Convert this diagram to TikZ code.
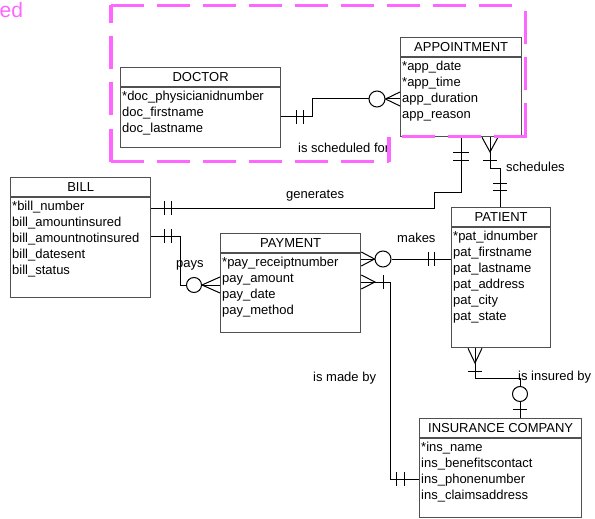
\documentclass[tikz,border=0pt]{standalone}
\usepackage{fontspec}
\setmainfont{Liberation Sans}
\definecolor{magc}{RGB}{255,102,255}
\definecolor{boxc}{RGB}{80,80,80}
\newcommand\erfont{\fontsize{13}{16}\selectfont}
\newcommand\ERent[7]{%
  \node[ent, minimum width=#4pt, minimum height=#5pt] (#1) at (#2,#3) {};
  \draw[entline] ([yshift=-20pt]#1.north west) -- ([yshift=-20pt]#1.north east);
  \node[hdr] (#1-t) at ([yshift=-10pt]#1.north) {#6};
  \foreach \a [count=\i from 0] in {#7}
    \node[attr] (#1-a\i) at ([xshift=2pt,yshift={-33.5pt-16pt*\i}]#1.north west) {\a};
}
\tikzset{
  ent/.style={draw=boxc, line width=1.3pt, inner sep=0pt, anchor=north west},
  entline/.style={draw=boxc, line width=1.3pt},
  hdr/.style={font=\erfont, inner sep=0pt},
  attr/.style={font=\erfont, inner sep=0pt, anchor=base west},
  lbl/.style={font=\erfont, inner sep=0pt, anchor=base west},
  conn/.style={draw=black, line width=1pt},
  opt/.style={circle, draw=black, line width=1pt, minimum size=16pt, inner sep=0pt},
  mag/.style={draw=magc, line width=3.5pt, dash pattern=on 33pt off 13pt},
}
\begin{document}
\begin{tikzpicture}[x=1pt,y=-1pt]
\useasboundingbox (0,0) rectangle (595,519);

% entities
\ERent{doctor}{120}{67}{160}{80}{DOCTOR}{*doc\_physicianidnumber,doc\_firstname,doc\_lastname}
\ERent{appointment}{400}{37}{121}{99}{APPOINTMENT}{*app\_date,*app\_time,app\_duration,app\_reason}
\ERent{bill}{10}{177}{140}{120}{BILL}{*bill\_number,bill\_amountinsured,bill\_amountnotinsured,bill\_datesent,bill\_status}
\ERent{payment}{220}{233}{140}{99}{PAYMENT}{*pay\_receiptnumber,pay\_amount,pay\_date,pay\_method}
\ERent{patient}{451}{207}{99}{140}{PATIENT}{*pat\_idnumber,pat\_firstname,pat\_lastname,pat\_address,pat\_city,pat\_state}
\ERent{insurance}{419}{418}{162}{99}{INSURANCE COMPANY}{*ins\_name,ins\_benefitscontact,ins\_phonenumber,ins\_claimsaddress}

% 1 doctor - appointment
\node[opt] (o1) at (377,99) {};
\draw[conn] (doctor.east |- 0,117) -| (312,99) -- (o1.west);
\draw[conn] (o1.east) -- (appointment.west |- 0,99);
\draw[conn] (appointment.west |- 0,92) -- (o1.east) -- (appointment.west |- 0,106);
\draw[conn] (296,110) -- (296,124) (303,110) -- (303,124);
\node[lbl] (l1) at (298,152) {is scheduled for};

% 2 generates
\draw[conn] (appointment.south -| 461,0) -- (461,192) -| (434,208) -- (bill.east |- 0,208);
\draw[conn] (453,152) -- (469,152) (453,160) -- (469,160);
\draw[conn] (164,201) -- (164,215) (171,201) -- (171,215);
\node[lbl] (l2) at (286,198) {generates};

% 3 schedules
\draw[conn] (appointment.south -| 482,0) -- (490,152) -- (appointment.south -| 498,0);
\draw[conn] (appointment.south -| 490,0) -- (490,168) -| (patient.north -| 500,0);
\draw[conn] (483,160) -- (497,160);
\draw[conn] (493,183) -- (507,183) (493,190) -- (507,190);
\node[lbl] (l3) at (506,171.5) {schedules};

% 4 pays
\node[opt, minimum size=15pt] (o2) at (194,285) {};
\draw[conn] (bill.east |- 0,236) -| (180,285) -- (o2.west);
\draw[conn] (o2.east) -- (payment.west |- 0,285);
\draw[conn] (payment.west |- 0,277) -- (o2.east) -- (payment.west |- 0,293);
\draw[conn] (164,229) -- (164,243) (171,229) -- (171,243);
\node[lbl] (l4) at (176,267) {pays};

% 5 makes
\node[opt] (o3) at (383,259) {};
\draw[conn] (payment.east |- 0,252) -- (o3.west) -- (payment.east |- 0,266);
\draw[conn] (payment.east |- 0,259) -- (o3.west);
\draw[conn] (o3.east) -- (patient.west |- 0,259);
\draw[conn] (428,252) -- (428,266) (434,252) -- (434,266);
\node[lbl] (l5) at (397,242) {makes};

% 6 is made by
\draw[conn] (payment.east |- 0,275) -- (375,282) -- (payment.east |- 0,289);
\draw[conn] (payment.east |- 0,282) -- (390,282) -- (390,479) -- (insurance.west |- 0,479);
\draw[conn] (383,275) -- (383,289);
\draw[conn] (396,472) -- (396,486) (404,472) -- (404,486);
\node[lbl] (l6) at (313,381.5) {is made by};

% 7 is insured by
\node[opt, minimum size=15pt] (o4) at (520,394) {};
\draw[conn] (patient.south -| 468,0) -- (475,363) -- (patient.south -| 482,0);
\draw[conn] (patient.south -| 475,0) -- (475,378) -- (520,378) -- (o4.north);
\draw[conn] (o4.south) -- (insurance.north -| 520,0);
\draw[conn] (468,371) -- (482,371);
\draw[conn] (513,409) -- (527,409);
\node[lbl] (l7) at (518,380.5) {is insured by};

% magenta dashed outline
\draw[mag] (111,5.5) -- (524,5.5);
\draw[mag] (525.5,136.5) -- (525.5,5.5);
\draw[mag] (527,136.5) -- (389,136.5);
\draw[mag] (389,136.5) -- (389,162);
\draw[mag] (111,161.5) -- (389,161.5);
\draw[mag] (111,161.5) -- (111,5.5);
\node[font=\fontsize{21}{21}\selectfont, text=magc, inner sep=0pt, anchor=base west] (ed) at (-0.5,17.5) {ed};
\end{tikzpicture}
\end{document}
